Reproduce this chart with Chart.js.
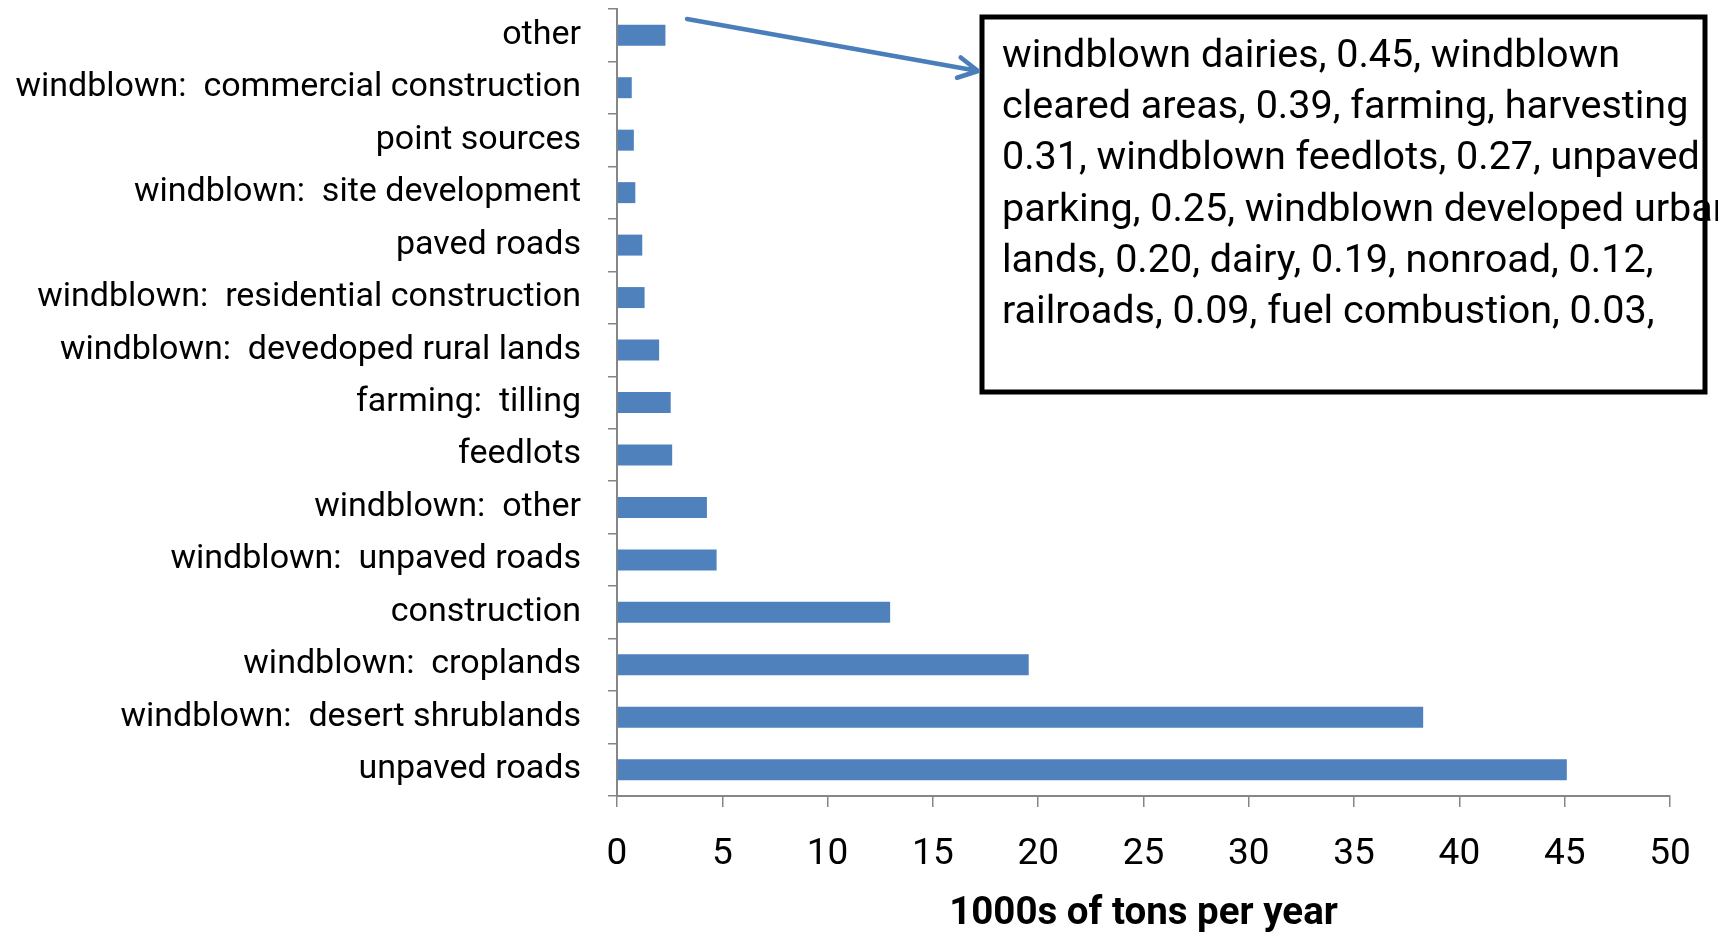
<!DOCTYPE html>
<html>
<head>
<meta charset="utf-8">
<script src="https://cdn.jsdelivr.net/npm/chart.js@4.4.1/dist/chart.umd.min.js"></script>
<style>
  html, body { margin: 0; padding: 0; background: #ffffff; }
  #c { display: block; }
</style>
</head>
<body>
<canvas id="c" width="1736" height="932"></canvas>
<script>
const categories = [
  "other",
  "windblown:  commercial construction",
  "point sources",
  "windblown:  site development",
  "paved roads",
  "windblown:  residential construction",
  "windblown:  devedoped rural lands",
  "farming:  tilling",
  "feedlots",
  "windblown:  other",
  "windblown:  unpaved roads",
  "construction",
  "windblown:  croplands",
  "windblown:  desert shrublands",
  "unpaved roads"
];
const emissions = [2.30, 0.70, 0.80, 0.87, 1.20, 1.31, 2.00, 2.55, 2.62, 4.27, 4.73, 12.97, 19.55, 38.28, 45.10];
const xTickValues = [0, 5, 10, 15, 20, 25, 30, 35, 40, 45, 50];
const xAxisTitle = "1000s of tons per year";
const annotationLines = [
  "windblown dairies, 0.45, windblown",
  "cleared areas, 0.39, farming, harvesting",
  "0.31, windblown feedlots, 0.27, unpaved",
  "parking, 0.25, windblown developed urban",
  "lands, 0.20, dairy, 0.19, nonroad, 0.12,",
  "railroads, 0.09, fuel combustion, 0.03,"
];

const FONT = "Roboto";
const AXIS_GRAY = "#868686";
const BAR_BLUE = "#4F81BD";

const annotationPlugin = {
  id: "annotationBox",
  afterDraw(chart) {
    const ctx = chart.ctx;
    // text (clipped like a text box)
    ctx.save();
    ctx.beginPath();
    ctx.rect(982, 17, 1718 - 982, 375);
    ctx.clip();
    ctx.font = "39.5px " + FONT;
    ctx.fillStyle = "#000000";
    ctx.textAlign = "left";
    ctx.textBaseline = "alphabetic";
    annotationLines.forEach((t, i) => ctx.fillText(t, 1002, 67 + i * 51.2));
    ctx.restore();
    // box border
    ctx.save();
    ctx.lineWidth = 5;
    ctx.strokeStyle = "#000000";
    ctx.lineJoin = "miter";
    ctx.strokeRect(982, 17, 723, 375);
    ctx.restore();
    // arrow from the "other" bar to the box
    const x0 = 687, y0 = 19, x1 = 978, y1 = 71;
    const ang = Math.atan2(y1 - y0, x1 - x0);
    const len = 22, spread = 28 * Math.PI / 180;
    ctx.save();
    ctx.strokeStyle = "#4A7EBB";
    ctx.lineWidth = 4.5;
    ctx.lineCap = "round";
    ctx.lineJoin = "round";
    ctx.beginPath();
    ctx.moveTo(x0, y0);
    ctx.lineTo(x1, y1);
    ctx.moveTo(x1 - len * Math.cos(ang - spread), y1 - len * Math.sin(ang - spread));
    ctx.lineTo(x1, y1);
    ctx.lineTo(x1 - len * Math.cos(ang + spread), y1 - len * Math.sin(ang + spread));
    ctx.stroke();
    ctx.restore();
  }
};

new Chart(document.getElementById("c"), {
  type: "bar",
  data: {
    labels: categories,
    datasets: [{
      data: emissions,
      backgroundColor: BAR_BLUE,
      borderWidth: 0,
      categoryPercentage: 1.0,
      barPercentage: 0.4
    }]
  },
  options: {
    indexAxis: "y",
    responsive: false,
    animation: false,
    devicePixelRatio: 1,
    layout: { padding: { top: 9, right: 66, bottom: 0, left: 0 } },
    plugins: {
      legend: { display: false },
      tooltip: { enabled: false },
      title: { display: false }
    },
    scales: {
      x: {
        type: "linear",
        min: 0,
        max: 50,
        afterBuildTicks(scale) { scale.ticks = xTickValues.map(v => ({ value: v })); },
        afterFit(scale) { scale.height = 136; },
        grid: {
          drawOnChartArea: false,
          drawTicks: true,
          tickLength: 11,
          color: AXIS_GRAY,
          lineWidth: 1.5
        },
        border: { display: true, color: AXIS_GRAY, width: 2 },
        ticks: {
          color: "#000000",
          padding: 26,
          font: { family: FONT, size: 37 },
          maxRotation: 0
        },
        title: {
          display: true,
          text: xAxisTitle,
          color: "#000000",
          font: { family: FONT, size: 38.5, weight: "bold", lineHeight: 0.9 },
          padding: { top: 0, bottom: 0 }
        }
      },
      y: {
        type: "category",
        afterFit(scale) {
          scale.width = 617;
          scale.paddingTop = 0;
          scale.paddingBottom = 0;
        },
        grid: {
          offset: true,
          drawOnChartArea: false,
          drawTicks: true,
          tickLength: 9,
          color: AXIS_GRAY,
          lineWidth: 1.5
        },
        border: { display: true, color: AXIS_GRAY, width: 2 },
        ticks: {
          color: "#000000",
          padding: 27,
          font: { family: FONT, size: 34 },
          autoSkip: false
        }
      }
    }
  },
  plugins: [annotationPlugin]
});
</script>
</body>
</html>
